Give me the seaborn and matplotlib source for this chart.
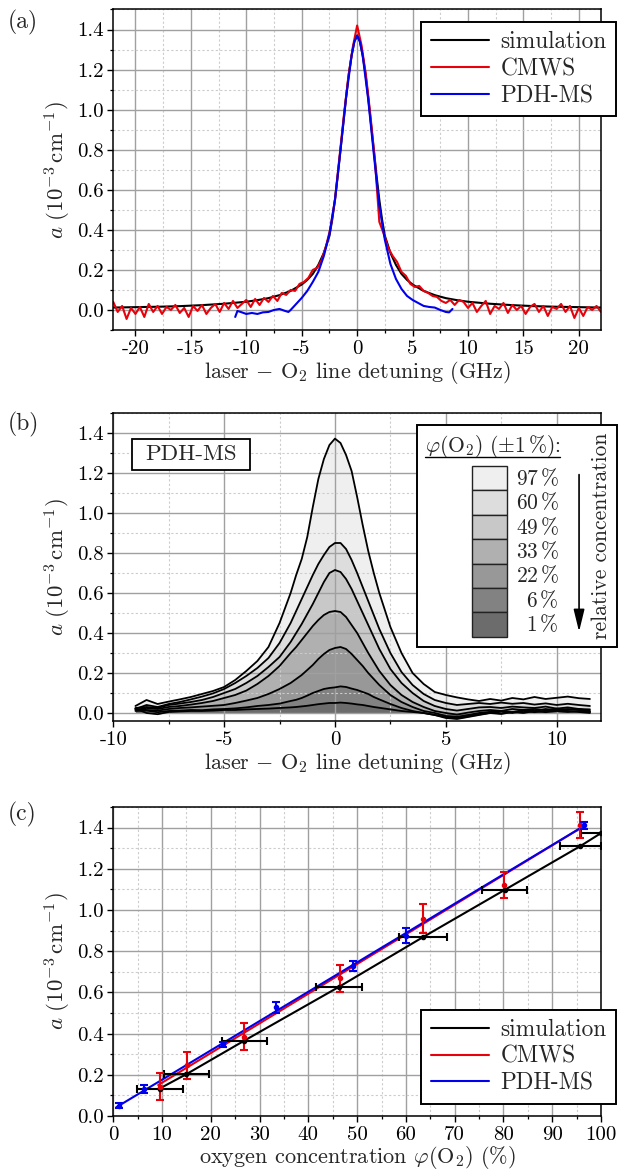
import numpy as np
import matplotlib
matplotlib.use("Agg")
import matplotlib.pyplot as plt
from matplotlib.ticker import MultipleLocator
from matplotlib.patches import Rectangle
import seaborn as sns

# ---------------------------
# (a) single line profile, detuning in GHz
# ---------------------------
sim_x = [-22, -20, -18, -16, -14, -12, -10, -9, -8, -7, -6, -5, -4.5, -4, -3.5, -3,
         -2.5, -2.25, -2, -1.75, -1.5, -1.25, -1, -0.75, -0.5, -0.25, 0,
         0.25, 0.5, 0.75, 1, 1.25, 1.5, 1.75, 2, 2.25, 2.5, 3, 3.5, 4, 4.5, 5,
         6, 7, 8, 9, 10, 12, 14, 16, 18, 20, 22]
sim_y = [0.012, 0.014, 0.016, 0.019, 0.024, 0.031, 0.041, 0.049, 0.059, 0.074, 0.095, 0.127,
         0.15, 0.18, 0.225, 0.285, 0.37, 0.45, 0.55, 0.67, 0.80, 0.93, 1.06, 1.18, 1.27,
         1.34, 1.37, 1.34, 1.27, 1.18, 1.06, 0.93, 0.80, 0.67, 0.55, 0.45, 0.37, 0.285,
         0.225, 0.18, 0.15, 0.127, 0.095, 0.074, 0.059, 0.049, 0.041, 0.031, 0.024,
         0.019, 0.016, 0.014, 0.012]

# CMWS trace, one value every 0.4 GHz from -22 to 22
cmws_y = [0.04, -0.01, 0.02, -0.045, 0.01, -0.02, 0.015, -0.035, 0.03, -0.01,
          0.02, -0.02, 0.015, 0.0, 0.025, -0.015, 0.01, -0.035, 0.02, -0.005,
          0.025, -0.02, 0.01, 0.03, -0.01, 0.035, 0.005, 0.045, 0.01, 0.03,
          0.05, 0.015, 0.055, 0.025, 0.06, 0.04, 0.07, 0.045, 0.085, 0.075,
          0.10, 0.095, 0.13, 0.14, 0.16, 0.20, 0.21, 0.25, 0.32, 0.41,
          0.55, 0.76, 0.97, 1.16, 1.31, 1.42, 1.32, 1.17, 0.97, 0.75,
          0.44, 0.38, 0.31, 0.27, 0.24, 0.19, 0.17, 0.13, 0.115, 0.12,
          0.095, 0.085, 0.07, 0.065, 0.045, 0.035, 0.05, 0.025, 0.05, 0.04,
          0.01, 0.035, -0.01, 0.02, 0.045, -0.02, 0.02, 0.005, 0.035, -0.015,
          0.025, 0.0, 0.02, -0.02, 0.015, 0.03, -0.01, 0.02, -0.03, 0.015,
          0.005, 0.03, -0.01, 0.02, -0.04, 0.01, -0.03, 0.015, 0.0, 0.02, -0.01]
cmws_x = np.linspace(-22, 22, len(cmws_y))

pdh_x = [-11.0, -10.8, -10.5, -10.0, -9.5, -9.0, -8.5, -8.0, -7.5, -7.0, -6.5, -6.2, -6.0,
         -5.5, -5.0, -4.5, -4.0, -3.5, -3.0, -2.5, -2.0, -1.5, -1.0, -0.5, -0.25, 0.0,
         0.25, 0.5, 1.0, 1.5, 2.0, 2.5, 3.0, 3.5, 4.0, 4.5, 5.0, 5.5, 6.0, 6.5, 7.0,
         7.5, 8.0, 8.3, 8.6]
pdh_y = [-0.035, -0.005, -0.01, -0.02, -0.015, -0.02, -0.012, -0.01, 0.0, 0.005, -0.005,
         -0.01, 0.0, 0.03, 0.06, 0.095, 0.14, 0.19, 0.27, 0.38, 0.55, 0.80, 1.06, 1.27,
         1.34, 1.37, 1.34, 1.27, 1.05, 0.78, 0.52, 0.35, 0.23, 0.155, 0.105, 0.07, 0.05,
         0.035, 0.02, 0.015, 0.012, 0.0, -0.01, -0.012, 0.005]

# ---------------------------
# (b) PDH-MS traces for several O2 concentrations
# ---------------------------
x_b = [-9.0, -8.5, -8.0, -7.5, -7.0, -6.5, -6.0, -5.5, -5.0, -4.5, -4.0, -3.5, -3.0, -2.5,
       -2.0, -1.75, -1.5, -1.25, -1.0, -0.75, -0.5, -0.25, 0.0, 0.25, 0.5, 0.75, 1.0,
       1.25, 1.5, 1.75, 2.0, 2.5, 3.0, 3.5, 4.0, 4.5, 5.0, 5.5, 6.0, 6.5, 7.0, 7.5, 8.0,
       8.5, 9.0, 9.5, 10.0, 10.5, 11.0, 11.5]
pdh_97 = [0.035, 0.065, 0.045, 0.057, 0.068, 0.08, 0.095, 0.11, 0.13, 0.165, 0.21, 0.26,
          0.33, 0.45, 0.60, 0.69, 0.77, 0.88, 1.03, 1.17, 1.27, 1.34, 1.372, 1.35, 1.29,
          1.21, 1.08, 0.94, 0.81, 0.70, 0.60, 0.43, 0.30, 0.20, 0.145, 0.105, 0.09,
          0.078, 0.068, 0.06, 0.07, 0.062, 0.075, 0.068, 0.08, 0.07, 0.076, 0.082,
          0.074, 0.07]
pdh_60 = [0.02, 0.04, 0.03, 0.045, 0.055, 0.068, 0.082, 0.098, 0.12, 0.15, 0.185, 0.225,
          0.275, 0.35, 0.45, 0.51, 0.57, 0.63, 0.69, 0.745, 0.79, 0.83, 0.85, 0.85, 0.82,
          0.765, 0.70, 0.63, 0.56, 0.49, 0.42, 0.30, 0.205, 0.14, 0.095, 0.065, 0.05,
          0.04, 0.045, 0.05, 0.045, 0.052, 0.046, 0.05, 0.042, 0.048, 0.04, 0.046,
          0.04, 0.035]
pdh_49 = [0.025, 0.03, 0.025, 0.04, 0.047, 0.055, 0.065, 0.08, 0.10, 0.12, 0.15, 0.185,
          0.23, 0.28, 0.355, 0.40, 0.445, 0.495, 0.545, 0.60, 0.655, 0.70, 0.715, 0.705,
          0.67, 0.62, 0.56, 0.50, 0.44, 0.38, 0.32, 0.22, 0.15, 0.10, 0.06, 0.035, 0.02,
          0.012, 0.02, 0.028, 0.03, 0.025, 0.032, 0.028, 0.025, 0.032, 0.022, 0.028,
          0.02, 0.018]
pdh_33 = [0.015, 0.025, 0.02, 0.03, 0.035, 0.042, 0.05, 0.06, 0.075, 0.09, 0.112, 0.145,
          0.185, 0.235, 0.30, 0.33, 0.365, 0.40, 0.435, 0.465, 0.49, 0.505, 0.51, 0.505,
          0.48, 0.44, 0.40, 0.35, 0.30, 0.255, 0.21, 0.14, 0.09, 0.055, 0.03, 0.01, 0.0,
          -0.008, 0.002, 0.01, 0.015, 0.01, 0.02, 0.015, 0.02, 0.014, 0.022, 0.016,
          0.02, 0.01]
pdh_22 = [0.02, 0.015, 0.012, 0.02, 0.025, 0.028, 0.032, 0.036, 0.04, 0.05, 0.062, 0.075,
          0.095, 0.12, 0.15, 0.17, 0.19, 0.215, 0.24, 0.27, 0.295, 0.315, 0.325, 0.33,
          0.32, 0.295, 0.265, 0.235, 0.20, 0.17, 0.14, 0.09, 0.055, 0.03, 0.01, 0.0,
          -0.015, -0.02, -0.01, 0.0, 0.006, 0.01, 0.004, 0.015, 0.01, 0.02, 0.013, 0.02,
          0.015, 0.008]
pdh_6 = [0.01, 0.012, 0.004, 0.01, 0.012, 0.015, 0.014, 0.018, 0.02, 0.023, 0.028, 0.035,
         0.04, 0.047, 0.06, 0.066, 0.075, 0.087, 0.10, 0.11, 0.12, 0.125, 0.128, 0.133,
         0.13, 0.122, 0.115, 0.105, 0.095, 0.08, 0.068, 0.045, 0.025, 0.01, 0.0, -0.01,
         -0.025, -0.03, -0.02, -0.01, 0.0, 0.006, 0.0, 0.01, 0.004, 0.01, 0.016, 0.01,
         0.005, 0.0]
pdh_1 = [0.022, 0.0, -0.006, 0.005, 0.008, 0.01, 0.01, 0.012, 0.015, 0.015, 0.018, 0.02,
         0.022, 0.025, 0.028, 0.03, 0.033, 0.036, 0.04, 0.044, 0.047, 0.05, 0.05, 0.052,
         0.05, 0.047, 0.043, 0.04, 0.035, 0.03, 0.026, 0.018, 0.01, 0.005, 0.0, -0.01,
         -0.02, -0.025, -0.015, -0.005, 0.0, -0.005, 0.005, 0.0, 0.01, 0.004, 0.01,
         0.005, 0.01, 0.004]
conc_labels = ["97", "60", "49", "33", "22", "6", "1"]
conc_colors = ["#efefef", "#dddddd", "#c8c8c8", "#b0b0b0", "#989898", "#828282", "#6c6c6c"]

# ---------------------------
# (c) peak absorption vs. oxygen concentration
# ---------------------------
sim_c_x = [9.5, 15.0, 26.9, 46.3, 63.5, 80.3, 95.7, 100.0]
sim_c_y = [0.133, 0.203, 0.366, 0.627, 0.868, 1.098, 1.309, 1.373]
sim_c_xerr = [4.7, 4.6, 4.7, 4.7, 5.0, 4.6, 4.2, 4.2]

cmws_c_x = [9.6, 15.2, 26.9, 46.4, 63.6, 80.1, 95.6]
cmws_c_y = [0.143, 0.245, 0.384, 0.668, 0.958, 1.122, 1.412]
cmws_c_yerr = [0.065, 0.065, 0.065, 0.066, 0.07, 0.062, 0.062]
cmws_fit_x = [9.2, 96.0]
cmws_fit_y = [0.150, 1.400]

pdh_c_x = [1.1, 6.3, 22.5, 33.4, 49.2, 60.1, 96.6]
pdh_c_y = [0.049, 0.130, 0.348, 0.528, 0.729, 0.875, 1.410]
pdh_c_yerr = [0.012, 0.02, 0.012, 0.027, 0.024, 0.036, 0.016]
pdh_fit_x = [0.6, 96.8]
pdh_fit_y = [0.042, 1.412]

y_ticks = [0.0, 0.2, 0.4, 0.6, 0.8, 1.0, 1.2, 1.4]
a_xticks = [-20, -15, -10, -5, 0, 5, 10, 15, 20]
b_xticks = [-10, -5, 0, 5, 10]
c_xticks = [0, 10, 20, 30, 40, 50, 60, 70, 80, 90, 100]

YLABEL = r"$a\ (10^{-3}\,\mathrm{cm}^{-1})$"
DETUNING = r"laser $-$ $\mathrm{O}_2$ line detuning (GHz)"

# ---------------------------
# STYLE
# ---------------------------
sns.set_style("ticks")
plt.rcParams.update({
    "font.family": "serif",
    "font.serif": ["cmr10"],
    "mathtext.fontset": "cm",
    "axes.unicode_minus": False,
    "axes.formatter.use_mathtext": True,
    "font.size": 15,
    "axes.edgecolor": "black",
    "axes.linewidth": 1.1,
    "xtick.color": "black",
    "ytick.color": "black",
    "xtick.direction": "out",
    "ytick.direction": "out",
    "xtick.major.size": 4,
    "ytick.major.size": 4,
    "xtick.minor.size": 2.3,
    "ytick.minor.size": 2.3,
    "xtick.major.width": 1.0,
    "ytick.major.width": 1.0,
    "xtick.minor.width": 0.9,
    "ytick.minor.width": 0.9,
    "xtick.major.pad": 3,
    "ytick.major.pad": 3,
    "xtick.labelsize": 15,
    "ytick.labelsize": 15,
    "axes.labelsize": 16,
})


def setup(ax, xticks, xminor, xlim, ylim):
    ax.set_xticks(xticks, labels=[str(t) for t in xticks])
    ax.xaxis.set_minor_locator(MultipleLocator(xminor))
    ax.set_yticks(y_ticks, labels=["%.1f" % t for t in y_ticks])
    ax.yaxis.set_minor_locator(MultipleLocator(0.1))
    ax.set_xlim(*xlim)
    ax.set_ylim(*ylim)
    ax.grid(True, which="major", color="#a0a0a0", lw=1.0)
    ax.grid(True, which="minor", color="#cccccc", lw=0.8, ls=(0, (2, 2)))
    ax.set_axisbelow("line")
    ax.set_ylabel(YLABEL, fontsize=16.5, labelpad=3)


def legend_box(ax, anchor, loc):
    leg = ax.legend(loc=loc, bbox_to_anchor=anchor, borderaxespad=0, fontsize=16.8,
                    frameon=True, fancybox=False, framealpha=1, edgecolor="black",
                    handlelength=2.5, handletextpad=0.5, labelspacing=0.2, borderpad=0.4)
    leg.get_frame().set_linewidth(1.4)
    leg.set_zorder(20)


fig = plt.figure(figsize=(6.18, 11.71), dpi=100)
ax_a = fig.add_axes([0.1833, 0.7182, 0.7892, 0.2737])
ax_b = fig.add_axes([0.1833, 0.3843, 0.7892, 0.2630])
ax_c = fig.add_axes([0.1833, 0.0470, 0.7892, 0.2639])

# ---------------------------
# PANEL (a)
# ---------------------------
sns.lineplot(x=sim_x, y=sim_y, color="black", lw=1.5, label="simulation", ax=ax_a,
             sort=False, estimator=None)
sns.lineplot(x=cmws_x, y=cmws_y, color="#e8000b", lw=1.5, label="CMWS", ax=ax_a,
             sort=False, estimator=None)
sns.lineplot(x=pdh_x, y=pdh_y, color="#0000ee", lw=1.5, label="PDH-MS", ax=ax_a,
             sort=False, estimator=None)
setup(ax_a, a_xticks, 2.5, (-22, 22), (-0.1, 1.5))
ax_a.set_xlabel(DETUNING, labelpad=1)
legend_box(ax_a, (1.031, 0.961), "upper right")

# ---------------------------
# PANEL (b)
# ---------------------------
traces = [pdh_97, pdh_60, pdh_49, pdh_33, pdh_22, pdh_6, pdh_1]
for trace, col in zip(traces, conc_colors):
    ax_b.fill_between(x_b, trace, 0, color=col, lw=0, zorder=1)
for trace in traces:
    sns.lineplot(x=x_b, y=trace, color="black", lw=1.3, ax=ax_b, sort=False,
                 estimator=None, legend=False, zorder=3)
setup(ax_b, b_xticks, 2.5, (-10, 12), (-0.04, 1.5))
ax_b.set_xlabel(DETUNING, labelpad=1)

# PDH-MS tag
ax_b.add_patch(Rectangle((0.039, 0.815), 0.242, 0.101, transform=ax_b.transAxes,
                         facecolor="white", edgecolor="black", lw=1.3, zorder=10))
ax_b.text(0.160, 0.866, "PDH-MS", transform=ax_b.transAxes, ha="center", va="center",
          fontsize=16.5, zorder=11)

# concentration legend
ax_b.add_patch(Rectangle((0.622, 0.240), 0.411, 0.721, transform=ax_b.transAxes,
                         facecolor="white", edgecolor="black", lw=1.4, zorder=10,
                         clip_on=False))
ax_b.text(0.7775, 0.890, r"$\varphi(\mathrm{O}_2)$ $(\pm1\,\%)$:", transform=ax_b.transAxes,
          ha="center", va="center", fontsize=15.5, zorder=11)
ax_b.plot([0.639, 0.916], [0.857, 0.857], transform=ax_b.transAxes, color="black",
          lw=1.0, zorder=11, clip_on=False)
cell_h = 0.0792
for i, (lab, col) in enumerate(zip(conc_labels, conc_colors)):
    y_top = 0.828 - i * cell_h
    ax_b.add_patch(Rectangle((0.736, y_top - cell_h), 0.0705, cell_h,
                             transform=ax_b.transAxes, facecolor=col, edgecolor="#222222",
                             lw=1.0, zorder=11, clip_on=False))
    ax_b.text(0.914, y_top - cell_h / 2, lab + r"$\,$%", transform=ax_b.transAxes,
              ha="right", va="center", fontsize=15.5, zorder=11)
ax_b.annotate("", xy=(0.955, 0.29), xycoords="axes fraction", xytext=(0.955, 0.80),
              textcoords="axes fraction", annotation_clip=False, zorder=12,
              arrowprops=dict(arrowstyle="-|>,head_length=0.9,head_width=0.22",
                              color="black", lw=1.2, shrinkA=0, shrinkB=0))
ax_b.text(1.0, 0.60, "relative concentration", transform=ax_b.transAxes, rotation=90,
          ha="center", va="center", fontsize=15.5, zorder=12, clip_on=False)

# ---------------------------
# PANEL (c)
# ---------------------------
sns.lineplot(x=sim_c_x, y=sim_c_y, color="black", lw=1.5, label="simulation", ax=ax_c,
             sort=False, estimator=None)
sns.lineplot(x=cmws_fit_x, y=cmws_fit_y, color="#e8000b", lw=1.5, label="CMWS", ax=ax_c,
             sort=False, estimator=None)
sns.lineplot(x=pdh_fit_x, y=pdh_fit_y, color="#0000ee", lw=1.5, label="PDH-MS", ax=ax_c,
             sort=False, estimator=None)
ax_c.errorbar(sim_c_x, sim_c_y, xerr=sim_c_xerr, fmt="o", ms=3, color="black",
              capsize=3, elinewidth=1.5, capthick=1.5, zorder=4)
ax_c.errorbar(cmws_c_x, cmws_c_y, yerr=cmws_c_yerr, fmt="o", ms=3, color="#e8000b",
              capsize=3, elinewidth=1.5, capthick=1.5, zorder=4)
ax_c.errorbar(pdh_c_x, pdh_c_y, yerr=pdh_c_yerr, fmt="o", ms=3, color="#0000ee",
              capsize=3, elinewidth=1.5, capthick=1.5, zorder=4)
setup(ax_c, c_xticks, 5, (0, 100), (0, 1.5))
ax_c.set_xlabel(r"oxygen concentration $\varphi(\mathrm{O}_2)$ (%)", labelpad=0)
legend_box(ax_c, (1.031, 0.039), "lower right")

# panel letters
fig.text(8 / 618, 1 - 22 / 1171, "(a)", fontsize=17, ha="left", va="center")
fig.text(8 / 618, 1 - 424 / 1171, "(b)", fontsize=17, ha="left", va="center")
fig.text(8 / 618, 1 - 814 / 1171, "(c)", fontsize=17, ha="left", va="center")

fig.savefig("out.png", dpi=100)
